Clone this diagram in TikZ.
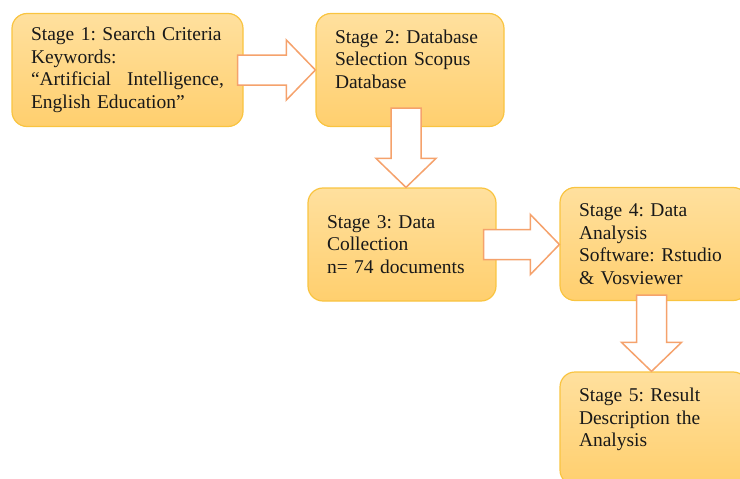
\documentclass[tikz,border=0pt]{standalone}
\usepackage{fontspec}
\setmainfont{Liberation Serif}
\usetikzlibrary{calc}
\frenchspacing

\definecolor{boxline}{HTML}{F9C440}
\definecolor{boxtop}{HTML}{FFE09E}
\definecolor{boxbot}{HTML}{FFCF6E}
\definecolor{arrowline}{HTML}{F5A26C}

% hollow block arrows: #1 shaft start, #2 tip
\newcommand{\fatright}[2]{\draw[fatarrow] ($(#1)+(0,-15)$) -- ($(#2)+(-29,-15)$) -- ($(#2)+(-29,-30)$) -- (#2)
    -- ($(#2)+(-29,30)$) -- ($(#2)+(-29,15)$) -- ($(#1)+(0,15)$) -- cycle;}
\newcommand{\fatdown}[2]{\draw[fatarrow] ($(#1)+(-15,0)$) -- ($(#2)+(-15,-29)$) -- ($(#2)+(-30,-29)$) -- (#2)
    -- ($(#2)+(30,-29)$) -- ($(#2)+(15,-29)$) -- ($(#1)+(15,0)$) -- cycle;}

\begin{document}
\begin{tikzpicture}[x=1pt, y=-1pt,
    stage/.style={draw=boxline, line width=1.2pt, top color=boxtop, bottom color=boxbot, rounded corners=15pt,
        align=left, inner sep=0pt, minimum height=113pt, minimum width=188pt, text width=150pt,
        text=black!90, font=\fontsize{19.5}{22.5}\selectfont},
    fatarrow/.style={draw=arrowline, fill=white, line width=1.5pt, line join=miter}]
        \useasboundingbox (0,0) rectangle (740,479);
        \node[stage, minimum width=231pt, text width=193pt] (s1) at (127.5,70) {Stage 1: Search Criteria\\Keywords:\\“Artificial\hfill Intelligence,\\English Education”};
        \node[stage] (s2) at (410,70) {Stage 2: Database\\Selection Scopus\\Database\\\mbox{}};
        \node[stage] (s3) at (402,244.5) {Stage 3: Data\\Collection\\n= 74 documents};
        \node[stage] (s4) at (654,244) {Stage 4: Data\\Analysis\\Software: Rstudio\\\& Vosviewer};
        \node[stage] (s5) at (654,428.5) {Stage 5: Result\\Description the\\Analysis\\\mbox{}};

        \coordinate (a1) at ($(s1.east)+(-6,0)$);
        \coordinate (t1) at (a1 -| s2.west);
        \coordinate (a2) at ($(s2.south)+(-4,-19)$);
        \coordinate (t2) at (a2 |- s3.north);
        \coordinate (a3) at ($(s3.east)+(-13,0)$);
        \coordinate (t3) at (a3 -| s4.west);
        \coordinate (a4) at ($(s4.south)+(-2.5,-6)$);
        \coordinate (t4) at (a4 |- s5.north);
        \fatright{a1}{t1}
        \fatdown{a2}{t2}
        \fatright{a3}{t3}
        \fatdown{a4}{t4}
    \end{tikzpicture}
\end{document}
